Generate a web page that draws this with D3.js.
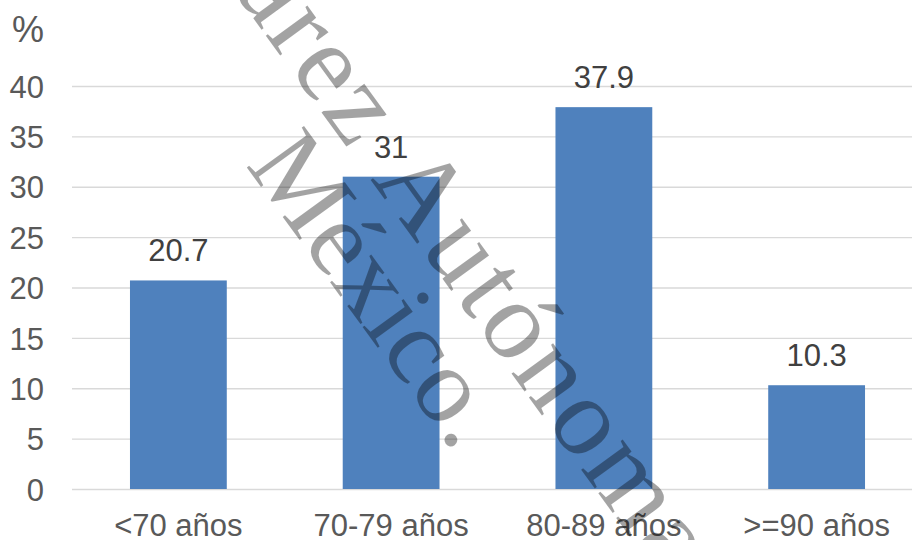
<!DOCTYPE html>
<html>
<head>
<meta charset="utf-8">
<script src="https://cdn.jsdelivr.net/npm/d3@7"></script>
<style>
  html, body { margin: 0; padding: 0; background: #fff; }
  svg { display: block; }
</style>
</head>
<body>
<div id="chart"></div>
<script>
// Distribución por grupo de edad (%)
const categories = ["<70 años", "70-79 años", "80-89 años", ">=90 años"];
const values = [20.7, 31, 37.9, 10.3];
const yTicks = [0, 5, 10, 15, 20, 25, 30, 35, 40];
const unitLabel = "%";
const watermarkLines = ["Juárez", "Autónoma", "México."];

const W = 912, H = 540;
const svg = d3.select("#chart").append("svg")
  .attr("width", W).attr("height", H)
  .attr("viewBox", `0 0 ${W} ${H}`);

const font = "'Liberation Sans', Arial, sans-serif";

const x = d3.scaleBand()
  .domain(categories)
  .range([72, 923])
  .paddingInner(0.545)
  .paddingOuter(0.2725);

const y = d3.scaleLinear().domain([0, 40]).range([489, 86]);

// Horizontal gridlines + value axis labels
const yAxis = d3.axisLeft(y)
  .tickValues(yTicks)
  .tickSizeInner(-(W - 72))
  .tickSizeOuter(0)
  .tickPadding(28)
  .tickFormat(d3.format("d"));

const gy = svg.append("g").attr("transform", "translate(72,0)").call(yAxis);
gy.select(".domain").remove();
gy.selectAll(".tick line").attr("stroke", "#d9d9d9").attr("stroke-width", 1.3);
gy.selectAll(".tick text")
  .attr("fill", "#595959")
  .attr("font-family", font)
  .attr("font-size", 31)
  .attr("dy", "0.36em");

svg.append("text")
  .attr("x", 44).attr("y", 42)
  .attr("text-anchor", "end")
  .attr("font-family", font)
  .attr("font-size", 36)
  .attr("fill", "#595959")
  .text(unitLabel);

// Bars
svg.append("g").selectAll("rect")
  .data(values)
  .join("rect")
  .attr("x", (d, i) => x(categories[i]))
  .attr("y", d => y(d))
  .attr("width", x.bandwidth())
  .attr("height", d => y(0) - y(d))
  .attr("fill", "#4f81bd");

// Value labels
svg.append("g").selectAll("text")
  .data(values)
  .join("text")
  .attr("x", (d, i) => x(categories[i]) + x.bandwidth() / 2)
  .attr("y", d => y(d) - 19)
  .attr("text-anchor", "middle")
  .attr("font-family", font)
  .attr("font-size", 31)
  .attr("fill", "#404040")
  .text(d => d);

// Category labels
svg.append("g").selectAll("text")
  .data(categories)
  .join("text")
  .attr("x", d => x(d) + x.bandwidth() / 2)
  .attr("y", 536)
  .attr("text-anchor", "middle")
  .attr("font-family", font)
  .attr("font-size", 31)
  .attr("fill", "#595959")
  .text(d => d);

// Diagonal watermark overlay
const wm = svg.append("g")
  .attr("font-family", "'Liberation Serif', 'Times New Roman', serif")
  .attr("fill", "#000")
  .attr("fill-opacity", 0.36);

wm.append("text")
  .attr("transform", "translate(351,153) rotate(54)")
  .attr("text-anchor", "end")
  .attr("font-size", 112)
  .attr("letter-spacing", 3.5)
  .text(watermarkLines[0]);
wm.append("text")
  .attr("transform", "translate(370,179) rotate(54)")
  .attr("text-anchor", "start")
  .attr("font-size", 112)
  .attr("letter-spacing", 3.5)
  .text(watermarkLines[1]);
wm.append("text")
  .attr("transform", "translate(245,165) rotate(54)")
  .attr("text-anchor", "start")
  .attr("font-size", 108)
  .text(watermarkLines[2]);
</script>
</body>
</html>
